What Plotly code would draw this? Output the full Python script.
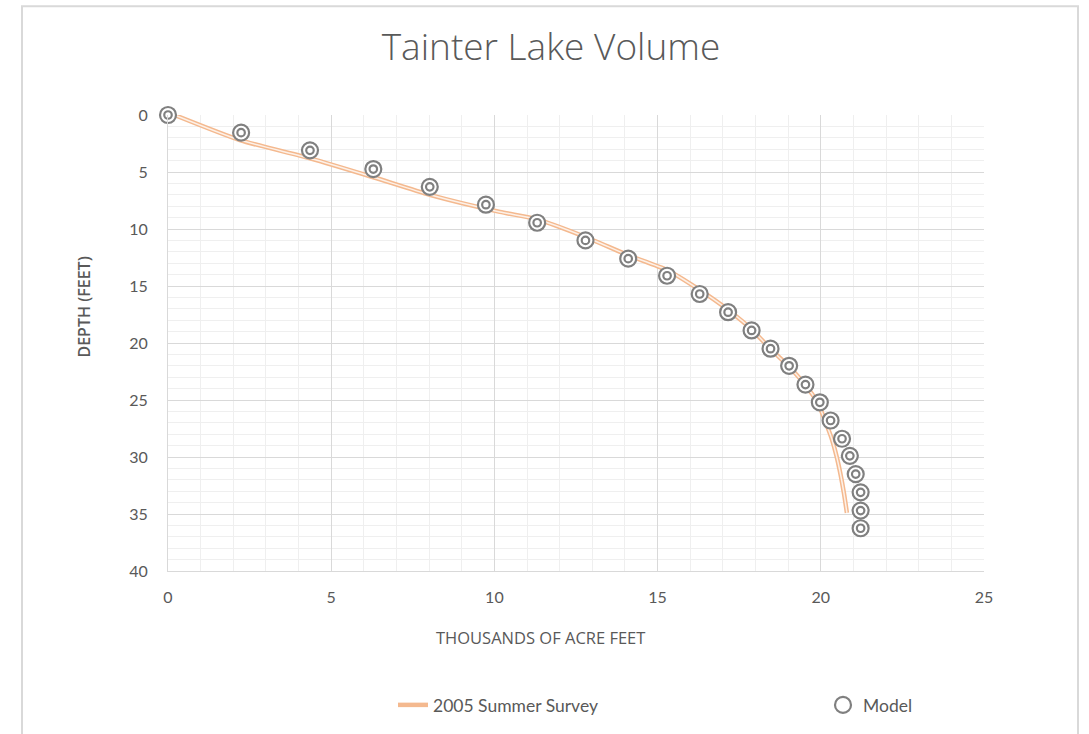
import plotly.graph_objects as go

# Model points (thousands of acre feet, depth in feet)
model_volume = [0, 2.24, 4.35, 6.29, 8.02, 9.74, 11.31, 12.79, 14.10, 15.29, 16.29, 17.16,
                17.88, 18.46, 19.03, 19.53, 19.97, 20.30, 20.65, 20.89, 21.07, 21.22, 21.22, 21.22]
model_depth = [0, 1.55, 3.1, 4.74, 6.3, 7.87, 9.45, 11.0, 12.6, 14.1, 15.7, 17.3,
               18.9, 20.5, 22.0, 23.65, 25.2, 26.8, 28.4, 29.9, 31.5, 33.1, 34.7, 36.25]

# 2005 Summer Survey curve
survey_volume = [0.2, 2.2, 4.35, 6.29, 8.02, 10.17, 11.31, 12.79, 14.1, 15.29, 16.29, 17.16,
                 17.88, 18.45, 19.0, 19.5, 19.9, 20.12, 20.33, 20.48, 20.61, 20.71, 20.8]
survey_depth = [0.0, 2.2, 3.8, 5.46, 7.0, 8.5, 9.15, 10.7, 12.3, 13.6, 15.35, 17.1,
                18.8, 20.5, 22.0, 23.6, 25.2, 26.75, 28.35, 29.9, 31.6, 33.2, 34.9]

x_ticks = [0, 5, 10, 15, 20, 25]
y_ticks = [0, 5, 10, 15, 20, 25, 30, 35, 40]

TEXT = "#595959"
FONT = "Lato"
MARK = "#808080"

fig = go.Figure()

# double line effect: outer light orange, inner near-white
fig.add_trace(go.Scatter(
    x=survey_volume, y=survey_depth, mode="lines", name="2005 Summer Survey",
    line=dict(color="#f4b98f", width=4.5, shape="spline", smoothing=0.6),
    legend="legend", hoverinfo="skip"))
fig.add_trace(go.Scatter(
    x=survey_volume, y=survey_depth, mode="lines", showlegend=False,
    line=dict(color="#fdf1e8", width=1.5, shape="spline", smoothing=0.6),
    hoverinfo="skip"))

# Model: concentric rings
fig.add_trace(go.Scatter(
    x=model_volume, y=model_depth, mode="markers", name="Model", cliponaxis=False,
    marker=dict(symbol="circle", size=16, color="white",
                line=dict(color=MARK, width=2.2)),
    legend="legend2"))
fig.add_trace(go.Scatter(
    x=model_volume, y=model_depth, mode="markers", showlegend=False, cliponaxis=False,
    marker=dict(symbol="circle-open", size=7.5, color=MARK,
                line=dict(color=MARK, width=2.2)),
    hoverinfo="skip"))

L, R, T, B = 168, 105, 115, 162
W, H = 1089, 734
pw, ph = W - L - R, H - T - B

def px_x(p):
    return (p - L) / pw

def px_y(p):
    return (H - B - p) / ph

fig.update_layout(
    width=W, height=H, autosize=False,
    margin=dict(l=L, r=R, t=T, b=B, pad=0),
    paper_bgcolor="white", plot_bgcolor="white",
    font=dict(family=FONT, color=TEXT, size=15),
    title=dict(text="Tainter Lake Volume", x=px_x(551), xanchor="center",
               y=1 - 47 / H, yanchor="middle", yref="container", xref="paper",
               font=dict(family="Open Sans", size=37, color=TEXT, weight=300)),
    xaxis=dict(range=[0, 25], tickvals=x_ticks, showgrid=True, gridcolor="#d9d9d9", gridwidth=1,
               minor=dict(dtick=1, showgrid=True, gridcolor="#efefef", gridwidth=1),
               zeroline=False, showline=True, linecolor="#d9d9d9", linewidth=1, mirror=False,
               ticks="", ticklabelstandoff=12, tickfont=dict(size=16, color=TEXT)),
    yaxis=dict(range=[40, 0], tickvals=y_ticks, showgrid=True, gridcolor="#d9d9d9", gridwidth=1,
               minor=dict(dtick=1, showgrid=True, gridcolor="#efefef", gridwidth=1),
               zeroline=False, showline=True, linecolor="#d9d9d9", linewidth=1,
               ticks="", ticklabelstandoff=16, tickfont=dict(size=16, color=TEXT)),
    legend=dict(orientation="h", x=px_x(393), xanchor="left", y=px_y(705), yanchor="middle",
                font=dict(size=17.5, color=TEXT), bgcolor="rgba(0,0,0,0)"),
    legend2=dict(orientation="h", x=px_x(823), xanchor="left", y=px_y(705), yanchor="middle",
                 font=dict(size=17.5, color=TEXT), bgcolor="rgba(0,0,0,0)"),
    annotations=[
        dict(text="THOUSANDS OF ACRE FEET", xref="paper", yref="paper", x=px_x(540), y=px_y(639),
             xanchor="center", yanchor="middle", showarrow=False,
             font=dict(size=16.5, color=TEXT, family="Open Sans")),
        dict(text="DEPTH (FEET)", xref="paper", yref="paper", x=px_x(84), y=px_y(308),
             xanchor="center", yanchor="middle", showarrow=False, textangle=-90,
             font=dict(size=16, color=TEXT, family="Open Sans", weight=600)),
    ],
    shapes=[
        dict(type="rect", xref="paper", yref="paper", x0=px_x(22), x1=px_x(1078),
             y0=px_y(760), y1=px_y(6), line=dict(color="#d9d9d9", width=2),
             fillcolor="rgba(0,0,0,0)", layer="below"),
    ],
)

fig.write_html("out.html")
